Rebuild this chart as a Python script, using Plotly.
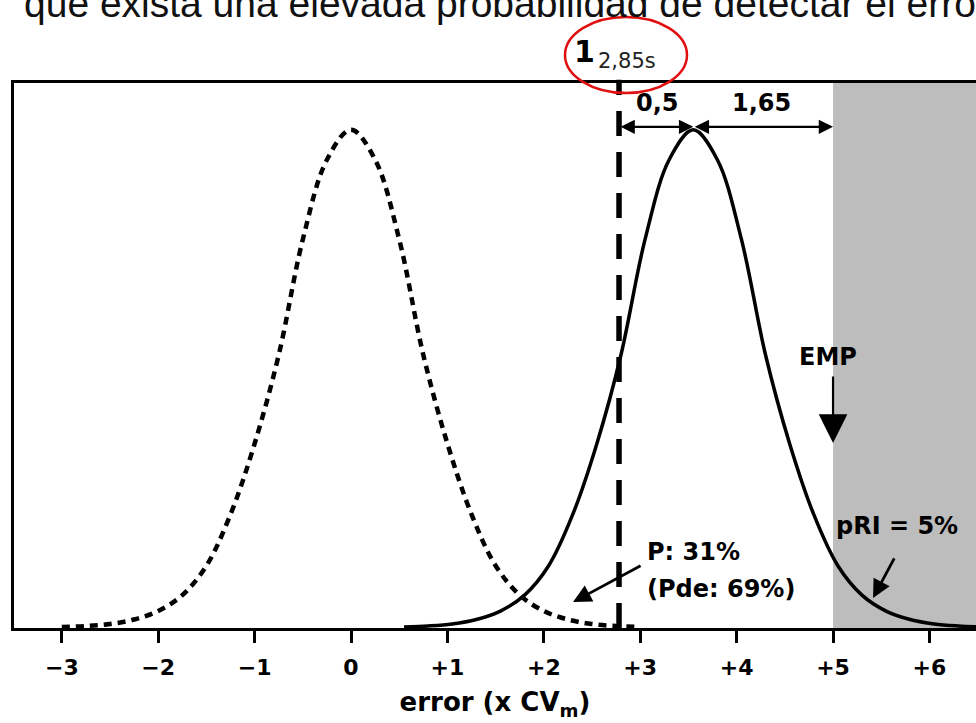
import plotly.graph_objects as go

# ---- data ----
tick_vals = [-3, -2, -1, 0, 1, 2, 3, 4, 5, 6]
tick_text = ["\u22123", "\u22122", "\u22121", "0", "+1", "+2", "+3", "+4", "+5", "+6"]

dashed_x = [-3.0, -2.75, -2.5, -2.25, -2.0, -1.75, -1.5, -1.25, -1.0, -0.75, -0.5, -0.25, 0.0,
            0.25, 0.5, 0.75, 1.0, 1.25, 1.5, 1.75, 2.0, 2.25, 2.5, 2.75, 3.0]
dashed_y = [0.002, 0.004, 0.008, 0.017, 0.034, 0.066, 0.125, 0.228, 0.37, 0.548, 0.78, 0.94, 1.0,
            0.94, 0.78, 0.548, 0.37, 0.228, 0.125, 0.066, 0.034, 0.017, 0.008, 0.004, 0.002]

solid_x = [0.55, 0.8, 1.05, 1.3, 1.55, 1.8, 2.05, 2.3, 2.55, 2.8, 3.05, 3.3, 3.55,
           3.8, 4.05, 4.3, 4.55, 4.8, 5.05, 5.3, 5.55, 5.8, 6.05, 6.3, 6.55]
solid_y = [0.002, 0.004, 0.008, 0.017, 0.034, 0.066, 0.125, 0.228, 0.37, 0.548, 0.78, 0.94, 1.0,
           0.94, 0.78, 0.548, 0.37, 0.228, 0.125, 0.066, 0.034, 0.017, 0.008, 0.004, 0.002]

rule_x = 2.78        # 1_2,85s control rule
mean_shift = 3.55    # peak of shifted distribution
emp_x = 5.0          # EMP limit

FONT = "DejaVu Sans"

fig = go.Figure()

fig.add_trace(go.Scatter(x=dashed_x, y=dashed_y, mode="lines",
                         line=dict(color="black", width=4.5, dash="8px,6px", shape="spline"),
                         hoverinfo="skip"))
fig.add_trace(go.Scatter(x=solid_x, y=solid_y, mode="lines",
                         line=dict(color="black", width=3.5, shape="spline"),
                         hoverinfo="skip"))

# grey region beyond EMP
fig.add_shape(type="rect", xref="x", yref="paper", x0=emp_x, x1=7, y0=0, y1=1,
              fillcolor="#bdbdbd", line=dict(width=0), layer="below")
# control rule line
fig.add_shape(type="line", xref="x", yref="paper", x0=rule_x, x1=rule_x, y0=0, y1=1.006,
              line=dict(color="black", width=5.5, dash="25px,16px"))
# red ellipse
fig.add_shape(type="circle", xref="paper", yref="paper",
              x0=(565 - 14) / 962, x1=(687 - 14) / 962,
              y0=(628 - 93) / 545, y1=(628 - 17) / 545,
              line=dict(color="#e01010", width=2.5))

bold = dict(family=FONT, size=24, color="black", weight="bold")

ann = []
# double-headed arrows
for a, b in [(rule_x, mean_shift), (mean_shift, emp_x)]:
    ann.append(dict(x=b, y=1.006, ax=a, ay=1.006, xref="x", yref="y", axref="x", ayref="y",
                    text="", showarrow=True, arrowhead=2, startarrowhead=2, arrowside="end+start",
                    arrowsize=1.3, startarrowsize=1.3, arrowwidth=2.2, arrowcolor="black"))
ann.append(dict(x=3.174, y=1.054, xref="x", yref="y", text="0,5", showarrow=False, font=bold))
ann.append(dict(x=4.253, y=1.054, xref="x", yref="y", text="1,65", showarrow=False, font=bold))
# EMP
ann.append(dict(x=emp_x, y=0.3715, ax=emp_x, ay=0.508, xref="x", yref="y", axref="x", ayref="y",
                text="", showarrow=True, arrowhead=2, arrowsize=2.6, arrowwidth=2.2, arrowcolor="black"))
ann.append(dict(x=4.948, y=0.544, xref="x", yref="y", text="EMP", showarrow=False, font=bold))
# P arrow
ann.append(dict(x=2.303, y=0.052, ax=3.019, ay=0.1265, xref="x", yref="y", axref="x", ayref="y",
                text="", showarrow=True, arrowhead=2, arrowsize=1.3, arrowwidth=2.8, arrowcolor="black"))
ann.append(dict(x=3.05, y=0.1526, xref="x", yref="y", text="P: 31%", showarrow=False,
                xanchor="left", font=bold))
ann.append(dict(x=3.05, y=0.0783, xref="x", yref="y", text="(Pde: 69%)", showarrow=False,
                xanchor="left", font=bold))
# pRI arrow
ann.append(dict(x=5.415, y=0.060, ax=5.643, ay=0.1426, xref="x", yref="y", axref="x", ayref="y",
                text="", showarrow=True, arrowhead=2, arrowsize=1.3, arrowwidth=2.8, arrowcolor="black"))
ann.append(dict(x=5.01, y=0.205, xref="x", yref="y", text="pRI = 5%", showarrow=False,
                xanchor="left", font=bold))
# rule label
ann.append(dict(x=(584 - 14) / 962, y=(628 - 52) / 545, xref="paper", yref="paper", text="1",
                showarrow=False, xanchor="center", yanchor="middle",
                font=dict(family=FONT, size=30, color="black", weight="bold")))
ann.append(dict(x=(596 - 14) / 962, y=(628 - 61) / 545, xref="paper", yref="paper", text="2,85s",
                showarrow=False, xanchor="left", yanchor="middle",
                font=dict(family=FONT, size=21, color="#222222")))
# cropped sentence at the top
ann.append(dict(x=(22 - 14) / 962, y=(628 - 4) / 545, xref="paper", yref="paper",
                text="que exista una elevada probabilidad de detectar el error",
                showarrow=False, xanchor="left", yanchor="middle",
                font=dict(family="Liberation Sans", size=39, color="#111111")))

fig.update_layout(
    width=976, height=723,
    margin=dict(l=14, r=0, t=83, b=95, autoexpand=False),
    paper_bgcolor="white", plot_bgcolor="white",
    showlegend=False,
    annotations=ann,
    xaxis=dict(range=[-3.496, 6.483], showgrid=False, zeroline=False, automargin=False,
               showline=True, mirror=True, linecolor="black", linewidth=3,
               ticks="outside", ticklen=12, tickwidth=3, tickcolor="black",
               tickvals=tick_vals, ticktext=tick_text, ticklabelstandoff=6,
               tickfont=dict(family=FONT, size=22, color="black", weight="bold"),
               title=dict(text="error (x CV<sub>m</sub>)", standoff=14,
                          font=dict(family=FONT, size=26, color="black", weight="bold"))),
    yaxis=dict(range=[0, 1.094], showgrid=False, zeroline=False, showticklabels=False,
               automargin=False,
               showline=True, mirror=False, linecolor="black", linewidth=3, ticks=""),
)

fig.write_html("out.html", config={"displayModeBar": False},
               post_script="document.body.style.margin='0';")
